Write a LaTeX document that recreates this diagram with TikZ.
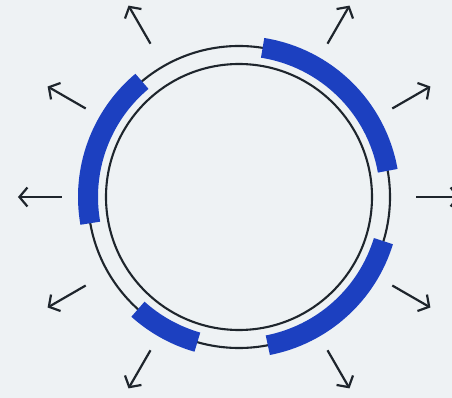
\documentclass[tikz,border=0pt]{standalone}
\usepackage{xcolor}
\usetikzlibrary{arrows.meta}
\definecolor{bgcol}{HTML}{EEF2F4}
\definecolor{bandblue}{HTML}{1C40C0}
\definecolor{inkgray}{HTML}{1E252C}

\begin{document}
\begin{tikzpicture}[
    x=1pt, y=1pt,
    ring/.style={draw=inkgray, line width=2.1pt},
    band/.style={draw=bandblue, line width=20pt, line cap=butt},
    ray/.style={-{Straight Barb[length=8pt, width=19pt, line width=2.2pt]}, draw=inkgray, line width=2.2pt}
]
    % Frame
    \fill[bgcol] (-239,-201) rectangle (213,197);
    \clip (-239,-201) rectangle (213,197);
    \useasboundingbox (-239,-201) rectangle (213,197);

    % Rings
    \coordinate (c) at (0,0);
    \draw[ring] (c) circle[radius=151];
    \draw[ring] (c) circle[radius=133];

    % Blue bands
    \draw[band] (81:151) arc[start angle=81, end angle=10, radius=151];
    \draw[band] (-17:151) arc[start angle=-17, end angle=-79, radius=151];
    \draw[band] (-106:151) arc[start angle=-106, end angle=-132, radius=151];
    \draw[band] (130:151) arc[start angle=130, end angle=190, radius=151];

    % Rays
    \foreach \a in {0,30,60,120,150,180,210,240,300,330} {
        \coordinate (s\a) at (\a:177);
        \coordinate (e\a) at (\a:221);
        \draw[ray] (s\a) -- (e\a);
    }
\end{tikzpicture}
\end{document}
